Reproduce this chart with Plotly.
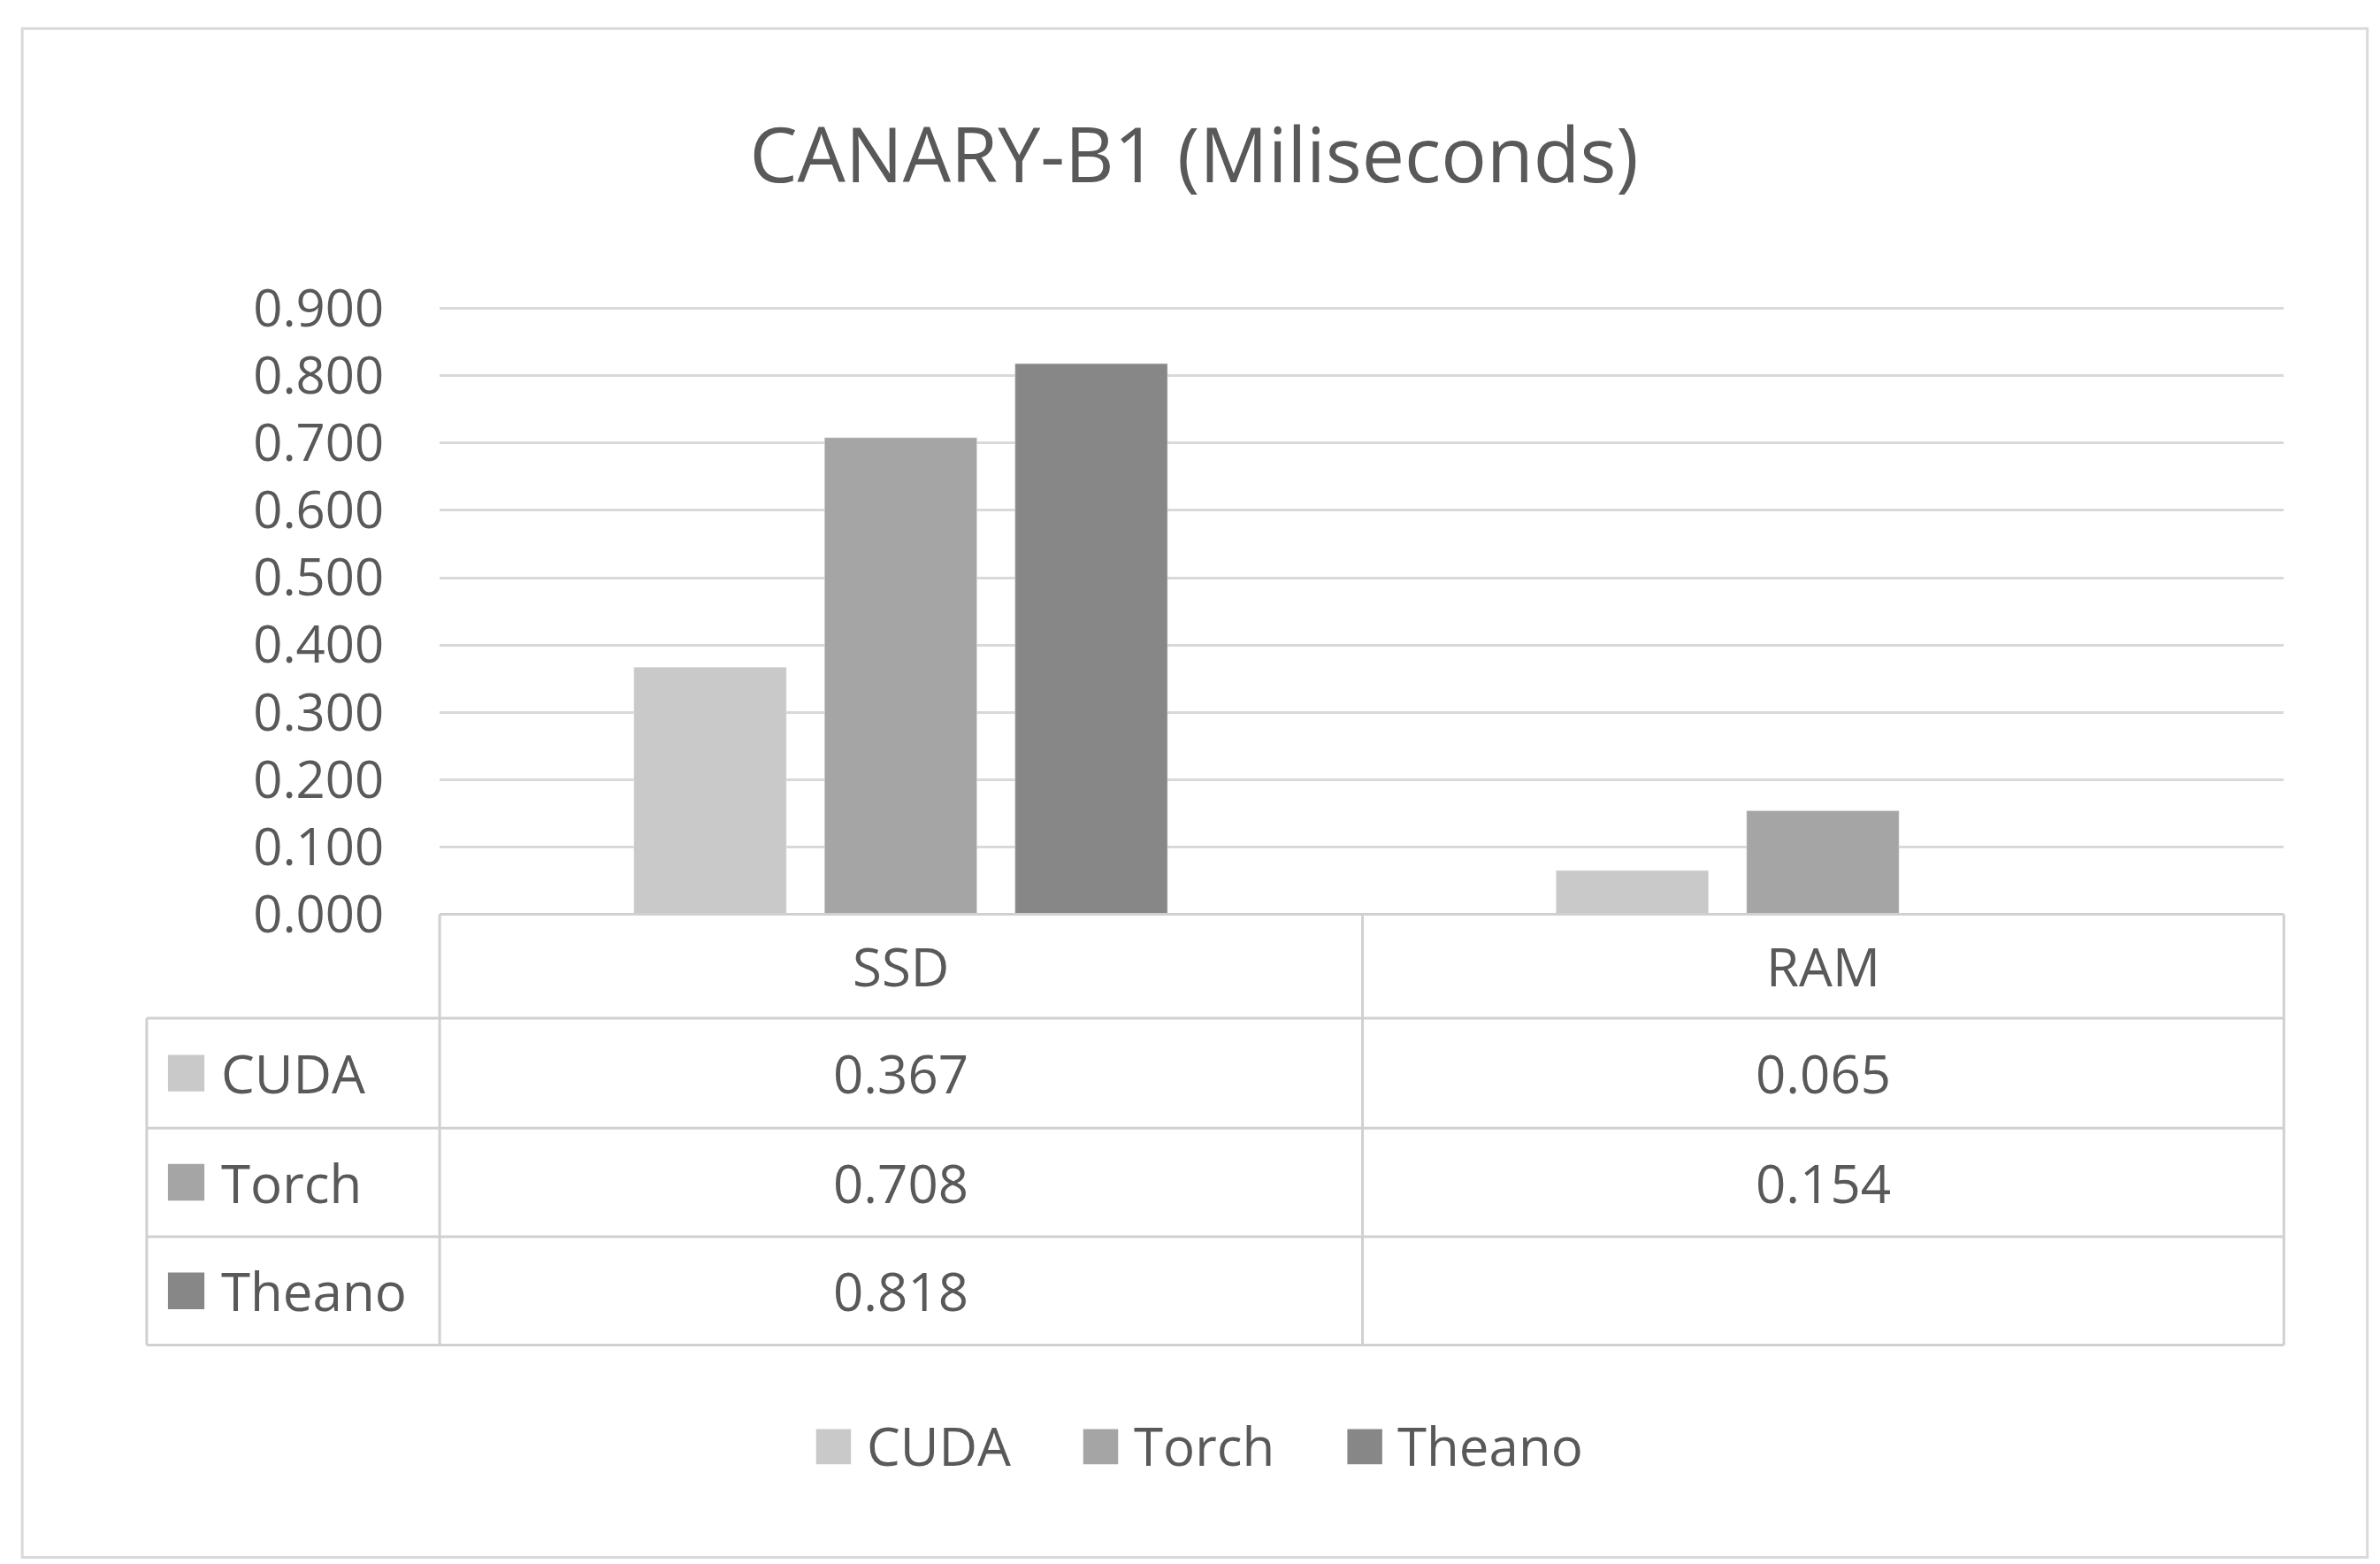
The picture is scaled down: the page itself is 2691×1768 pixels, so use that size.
import plotly.graph_objects as go

categories = ["SSD", "RAM"]
series_names = ["CUDA", "Torch", "Theano"]
cuda = [0.367, 0.065]
torch = [0.708, 0.154]
theano = [0.818, None]
colors = ["#c9c9c9", "#a5a5a5", "#878787"]
y_ticks = [0.0, 0.1, 0.2, 0.3, 0.4, 0.5, 0.6, 0.7, 0.8, 0.9]

W, H = 1568.0, 1024.0
def px(x): return x / W
def py(y): return 1 - y / H

TXT = "#595959"
FONT = "Open Sans"
fig = go.Figure()
for name, vals, c in zip(series_names, [cuda, torch, theano], colors):
    fig.add_trace(go.Bar(x=categories, y=vals, name=name, marker_color=c, showlegend=False))

shapes = []
annots = []
shapes.append(dict(type="rect", xref="paper", yref="paper", x0=px(10), x1=px(1555), y0=py(1015), y1=py(14),
                   line=dict(color="#d9d9d9", width=3)))
lc = dict(color="#d0d0d0", width=3)
col_x = [92, 285, 893, 1500]
row_y = [594, 662, 734, 805, 876]
shapes.append(dict(type="line", xref="paper", yref="paper", x0=px(285), x1=px(1500), y0=py(594), y1=py(594), line=lc))
for yy in row_y[1:]:
    shapes.append(dict(type="line", xref="paper", yref="paper", x0=px(92), x1=px(1500), y0=py(yy), y1=py(yy), line=lc))
shapes.append(dict(type="line", xref="paper", yref="paper", x0=px(92), x1=px(92), y0=py(662), y1=py(876), line=lc))
for xx in col_x[1:]:
    shapes.append(dict(type="line", xref="paper", yref="paper", x0=px(xx), x1=px(xx), y0=py(594), y1=py(876), line=lc))

tf = dict(family=FONT, size=60, color=TXT)
for i, cat in enumerate(categories):
    xc = (col_x[i + 1] + col_x[i + 2]) / 2
    annots.append(dict(xref="paper", yref="paper", x=px(xc), y=py((row_y[0] + row_y[1]) / 2), text=cat,
                       showarrow=False, font=tf, xanchor="center", yanchor="middle"))
for r, (name, vals, c) in enumerate(zip(series_names, [cuda, torch, theano], colors)):
    yc = (row_y[r + 1] + row_y[r + 2]) / 2
    shapes.append(dict(type="rect", xref="paper", yref="paper", x0=px(106), x1=px(130), y0=py(yc + 12), y1=py(yc - 12),
                       fillcolor=c, line=dict(width=0)))
    annots.append(dict(xref="paper", yref="paper", x=px(140), y=py(yc), text=name, showarrow=False, font=tf,
                       xanchor="left", yanchor="middle"))
    for i, v in enumerate(vals):
        if v is None:
            continue
        xc = (col_x[i + 1] + col_x[i + 2]) / 2
        annots.append(dict(xref="paper", yref="paper", x=px(xc), y=py(yc), text=f"{v:.3f}", showarrow=False,
                           font=tf, xanchor="center", yanchor="middle"))

# custom legend
leg_x = [533, 709, 883]
leg_y = 942
for name, c, lx in zip(series_names, colors, leg_x):
    shapes.append(dict(type="rect", xref="paper", yref="paper", x0=px(lx), x1=px(lx + 23), y0=py(leg_y + 12),
                       y1=py(leg_y - 11), fillcolor=c, line=dict(width=0)))
    annots.append(dict(xref="paper", yref="paper", x=px(lx + 32), y=py(leg_y), text=name, showarrow=False, font=tf,
                       xanchor="left", yanchor="middle"))

fig.update_layout(
    width=2691, height=1768, paper_bgcolor="white", plot_bgcolor="white",
    margin=dict(l=0, r=0, t=0, b=0, autoexpand=False),
    font=dict(family=FONT, color=TXT),
    showlegend=False,
    title=dict(text="CANARY-B1 (Miliseconds)", x=px(782), y=py(97), xanchor="center", yanchor="middle",
               font=dict(family=FONT, size=86, color=TXT)),
    barmode="group", bargap=0.38, bargroupgap=0.2,
    xaxis=dict(domain=[px(285), px(1500)], showticklabels=False, showline=False, ticks=""),
    yaxis=dict(domain=[py(594), py(196)], range=[0, 0.903], tickvals=y_ticks, tickformat=".3f",
               gridcolor="#d9d9d9", gridwidth=3, zeroline=False, tickfont=dict(family=FONT, size=58, color=TXT),
               ticklabelstandoff=62),
    shapes=shapes, annotations=annots,
)
fig.write_html("out.html")
